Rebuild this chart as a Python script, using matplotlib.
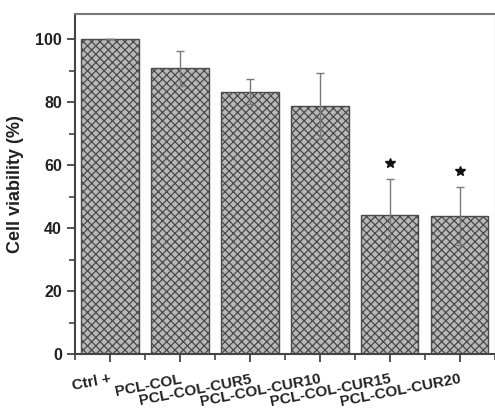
import matplotlib
matplotlib.use("Agg")
import matplotlib.pyplot as plt
from matplotlib.ticker import MultipleLocator, FixedLocator

categories = ["Ctrl +", "PCL-COL", "PCL-COL-CUR5", "PCL-COL-CUR10", "PCL-COL-CUR15", "PCL-COL-CUR20"]
viability = [100.0, 90.7, 83.3, 78.8, 44.2, 43.8]
sd = [0.0, 5.6, 4.0, 10.6, 11.5, 9.3]
significant = [False, False, False, False, True, True]
star_offset = 5.0

plt.rcParams['font.family'] = ['Liberation Sans', 'DejaVu Sans']
plt.rcParams['hatch.color'] = '#555555'
plt.rcParams['hatch.linewidth'] = 0.9

fig = plt.figure(figsize=(4.95, 4.18), dpi=100)
ax = fig.add_axes([0.1515, 0.153, 0.848, 0.8135])

x = list(range(len(categories)))
ax.bar(x, viability, width=0.82, color='#b8b8b8', edgecolor='#4a4a4a',
       linewidth=1.0, hatch='xxxx', zorder=2)
ax.errorbar(x, viability, yerr=sd, fmt='none', ecolor='#7a7a7a',
            elinewidth=1.0, capsize=3, capthick=1.0, zorder=3)
for xi, v, s, sig in zip(x, viability, sd, significant):
    if sig:
        ax.plot(xi, v + s + star_offset, marker='*', color='#111111',
                markersize=7, zorder=4)

ax.set_xlim(-0.5, 5.5)
ax.set_ylim(0, 108)
ax.yaxis.set_major_locator(MultipleLocator(20))
ax.yaxis.set_minor_locator(MultipleLocator(10))
ax.set_xticks(x)
ax.xaxis.set_minor_locator(FixedLocator([i + 0.5 for i in range(-1, 6)]))
ax.set_xticklabels(categories, rotation=11, ha='right', rotation_mode='anchor',
                   fontsize=11, fontweight='bold', color='#222222')
ax.tick_params(axis='y', labelsize=11.5, labelcolor='#222222')
for lab in ax.get_yticklabels():
    lab.set_fontweight('bold')
ax.tick_params(which='major', direction='out', length=6, width=1.3, color='#444444')
ax.tick_params(which='minor', direction='out', length=4, width=1.2, color='#444444')
ax.tick_params(axis='x', which='major', pad=7)
ax.set_ylabel("Cell viability (%)", fontsize=13, fontweight='bold', color='#222222', labelpad=8)

for side in ['left', 'bottom']:
    ax.spines[side].set_linewidth(1.5)
    ax.spines[side].set_color('#444444')
ax.spines['top'].set_linewidth(1.5)
ax.spines['top'].set_color('#777777')
ax.spines['right'].set_linewidth(1.0)
ax.spines['right'].set_color('#dddddd')

fig.savefig("out.png", dpi=100)
